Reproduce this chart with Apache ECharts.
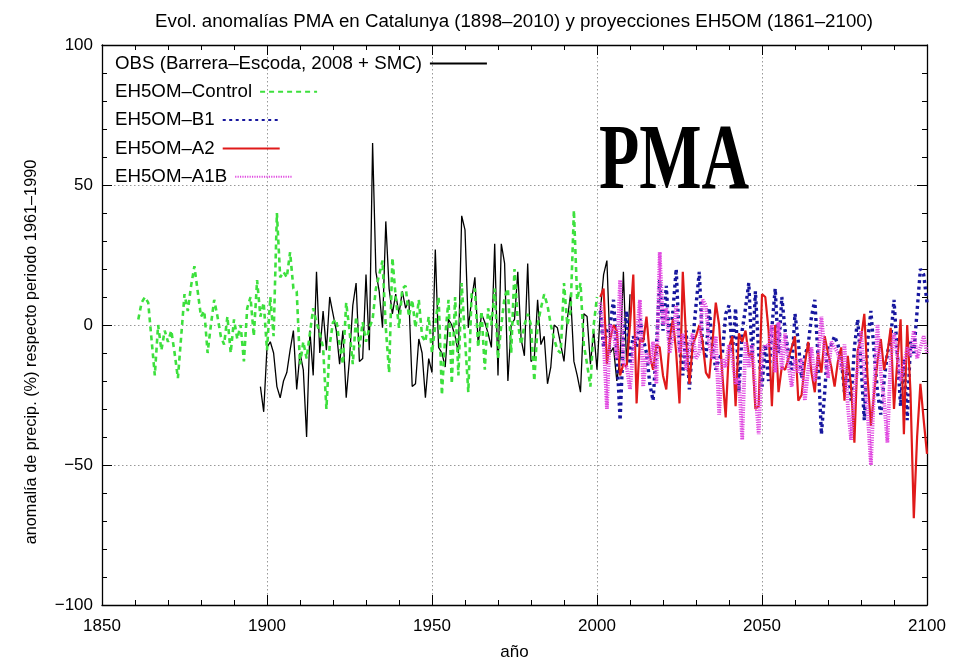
<!DOCTYPE html>
<html>
<head>
<meta charset="utf-8">
<script src="https://cdn.jsdelivr.net/npm/echarts@6/dist/echarts.min.js"></script>
<style>
html,body{margin:0;padding:0;background:#fff;}
#chart{width:964px;height:661px;}
</style>
</head>
<body>
<div id="chart"></div>
<script>
// ---- data ----
var titleText = 'Evol. anomalías PMA en Catalunya (1898–2010) y proyecciones EH5OM (1861–2100)';
var xTicks = [1850, 1900, 1950, 2000, 2050, 2100];
var yTicks = [-100, -50, 0, 50, 100];
var seriesNames = ['OBS (Barrera–Escoda, 2008 + SMC)', 'EH5OM–Control', 'EH5OM–B1', 'EH5OM–A2', 'EH5OM–A1B'];

var obsStart = 1898;
var obs = [
  -22,-31,-8,-6,-10,-22,-26,-20,-17,-9,
  -2,-23,-10,-16,-40,-2,-18,19,-10,5,
  -9,10,4,-2,-14,-2,-26,-12,7,15,
  -13,-12,18,-9,65,19,12,-1,37,13,
  4,11,4,12,6,9,-22,-21,-5,-10,
  -26,-12,-17,27,-8,-10,-15,2,0,-4,
  -10,39,34,-1,9,17,-7,4,1,-3,
  -8,29,-18,29,22,-20,0,2,19,-5,
  -11,22,-13,-12,9,-7,-4,-21,-15,0,
  -1,-7,-13,2,11,-13,-18,-24,4,3,
  -14,-2,-16,5,18,23,-10,-8,-20,-12,
  19,-15,11
];

var ctrlStart = 1861;
var control = [
  2,8,10,8,-5,-18,0,-9,-2,-6,
  -2,-10,-19,-4,11,5,14,21,12,3,
  5,-10,0,9,3,-4,-7,3,-10,2,
  -5,0,-13,6,10,-4,16,3,8,
  -9,10,-4,40,17,19,17,26,13,12,
  -14,-6,-12,-3,6,1,-3,-8,-30,-7,
  1,2,-7,-14,8,-2,-14,3,-8,1,
  -6,-1,2,13,18,23,-1,-17,24,10,
  -1,13,14,3,9,-1,9,-4,-6,3,
  -10,0,10,-25,-4,9,-21,10,-18,15,
  -5,-24,11,13,-8,5,-16,6,0,13,
  -12,0,10,13,-10,20,1,-7,0,4,
  0,-20,0,6,11,7,0,-5,-9,-10,
  15,0,5,41,9,15,-7,-14,-22,0,10
];

var scenStart = 2001;
var b1 = [
  5,-8,-2,0,9,-10,-34,-5,5,-14,
  -4,-8,2,-5,-10,-21,-27,-8,16,-2,
  14,-7,5,20,-8,-18,-2,-23,-6,7,
  19,-8,-12,6,-8,-16,-12,-10,4,7,
  -10,6,-24,-2,6,15,-12,12,-10,-22,
  -7,-20,-1,13,-10,10,-2,-10,-16,4,
  -6,-19,-11,-7,3,9,-12,-39,-24,-7,
  -7,-4,-7,-12,-24,-14,-27,-8,2,-14,
  -34,-6,5,-10,-24,-32,-20,-10,-5,9,
  -10,-29,-12,-34,-6,-10,5,20,18,8
];
var a2 = [
  10,13,-14,-5,0,-2,-18,-14,-15,0,
  18,-28,-5,-6,3,-11,-16,-7,-8,-18,
  -23,-5,2,-10,-28,19,-5,-21,-7,-4,
  0,-6,-17,-19,-6,8,0,-18,-33,-8,
  -4,-29,-3,-6,-2,-11,-10,-30,-29,11,
  10,-2,-29,0,-24,-15,-16,-12,-8,-4,
  -27,-25,-14,-6,-17,-24,-10,-17,-4,-10,
  -15,-22,-13,-8,-27,-11,-22,-42,-9,-5,
  4,-19,-36,-24,-13,-5,-16,-10,-1,-30,
  -13,2,-39,0,-24,-69,-40,-21,-34,-46
];
var a1b = [
  8,-5,-30,0,-2,-12,16,-14,-15,-23,
  -8,-4,9,-22,-10,-14,-6,-21,26,0,
  6,-10,-4,7,-10,-3,-16,-7,-3,-12,
  -10,9,7,-7,-12,-4,-32,-12,-15,-7,
  -12,-21,-19,-41,-6,-15,-7,-24,-39,-10,
  -7,-8,0,-17,1,-16,-3,-14,-22,-12,
  -17,-12,-27,-16,-8,-20,-12,3,-10,-19,
  -6,-8,-10,-16,-7,-29,-41,-24,-15,-2,
  -18,-31,-50,-22,0,-17,-27,-42,-12,-3,
  -11,-20,-14,-8,-11,-2,-12,-8,-4,-10
];

function pairs(start, arr){ return arr.map(function(v,i){ return [start+i, v]; }); }
function fmtNum(v){ return v < 0 ? '\u2212' + Math.abs(v) : String(v); }

var FONT = 'Liberation Sans';
var chart = echarts.init(document.getElementById('chart'), null, {renderer:'canvas'});

var axisLine = {show:true, onZero:false, lineStyle:{color:'#000', width:1.3}};
var gridLine = {show:true, lineStyle:{color:'#999', type:[1.5,2.5], width:1}};
var tick = {show:true, inside:true, length:10, lineStyle:{color:'#000'}};
var minor = {show:true, splitNumber:5, length:5, lineStyle:{color:'#000'}};

var legends = seriesNames.map(function(n, i){
  return {
    orient:'vertical', left:115, top:54 + i*28.3, align:'right',
    itemWidth:57, itemHeight:14, padding:0,
    itemStyle:{opacity:0, borderWidth:0},
    textStyle:{fontFamily:FONT, fontSize:18.7, color:'#000', padding:[0,3,0,0]},
    data:[n]
  };
});

var option = {
  backgroundColor:'#fff',
  animation:false,
  title:{
    text:titleText, left:509, top:7, textAlign:'center',
    textStyle:{fontFamily:FONT, fontSize:18.7, fontWeight:'normal', color:'#000'}
  },
  legend:legends,
  grid:{left:102, right:37, top:45, bottom:56, containLabel:false, outerBoundsMode:'none'},
  xAxis:[{
    type:'value', min:1850, max:2100, interval:50,
    name:'año', nameLocation:'middle', nameGap:39,
    nameTextStyle:{fontFamily:FONT, fontSize:17, color:'#000'},
    axisLine:axisLine, axisTick:tick, minorTick:minor,
    axisLabel:{fontFamily:FONT, fontSize:17, color:'#000', margin:13,
      customValues:xTicks, formatter:function(v){return String(v);}},
    splitLine:gridLine
  },{
    type:'value', min:1850, max:2100, interval:50, position:'top',
    axisLine:axisLine, axisTick:tick, minorTick:minor,
    axisLabel:{show:false}, splitLine:{show:false}
  }],
  yAxis:[{
    type:'value', min:-100, max:100, interval:50,
    name:'anomalía de precip. (%) respecto periodo 1961–1990',
    nameLocation:'middle', nameGap:62, nameRotate:90,
    nameTextStyle:{fontFamily:FONT, fontSize:16.3, color:'#000', padding:[0,54,0,0]},
    axisLine:axisLine, axisTick:tick, minorTick:minor,
    axisLabel:{fontFamily:FONT, fontSize:17, color:'#000', margin:9,
      customValues:yTicks, formatter:function(v){return fmtNum(v);}},
    splitLine:gridLine
  },{
    type:'value', min:-100, max:100, interval:50, position:'right',
    axisLine:axisLine, axisTick:tick, minorTick:minor,
    axisLabel:{show:false}, splitLine:{show:false}
  }],
  graphic:[{
    type:'text', left:599, top:118, z:100,
    scaleY:1.4, originY:0,
    style:{text:'PMA', fontFamily:'Liberation Serif', fontSize:66, fontWeight:'bold', fill:'#000'}
  }],
  series:[
    {name:seriesNames[0], type:'line', data:pairs(obsStart, obs), showSymbol:false, symbol:'none',
     lineStyle:{color:'#000', width:1.3}, itemStyle:{color:'#000'}, z:2},
    {name:seriesNames[1], type:'line', data:pairs(ctrlStart, control), showSymbol:false, symbol:'none',
     lineStyle:{color:'#3de03d', width:2.6, type:[5,4]}, itemStyle:{color:'#3de03d'}, z:3},
    {name:seriesNames[2], type:'line', data:pairs(scenStart, b1), showSymbol:false, symbol:'none',
     lineStyle:{color:'#16169e', width:3.4, type:[3,3.5]}, itemStyle:{color:'#16169e'}, z:4},
    {name:seriesNames[3], type:'line', data:pairs(scenStart, a2), showSymbol:false, symbol:'none',
     lineStyle:{color:'#e01a1a', width:2.2}, itemStyle:{color:'#e01a1a'}, z:5},
    {name:seriesNames[4], type:'line', data:pairs(scenStart, a1b), showSymbol:false, symbol:'none',
     lineStyle:{color:'#e048e0', width:3.8, type:[1.2,1.2]}, itemStyle:{color:'#e048e0'}, z:6}
  ]
};
chart.setOption(option);
</script>
</body>
</html>
